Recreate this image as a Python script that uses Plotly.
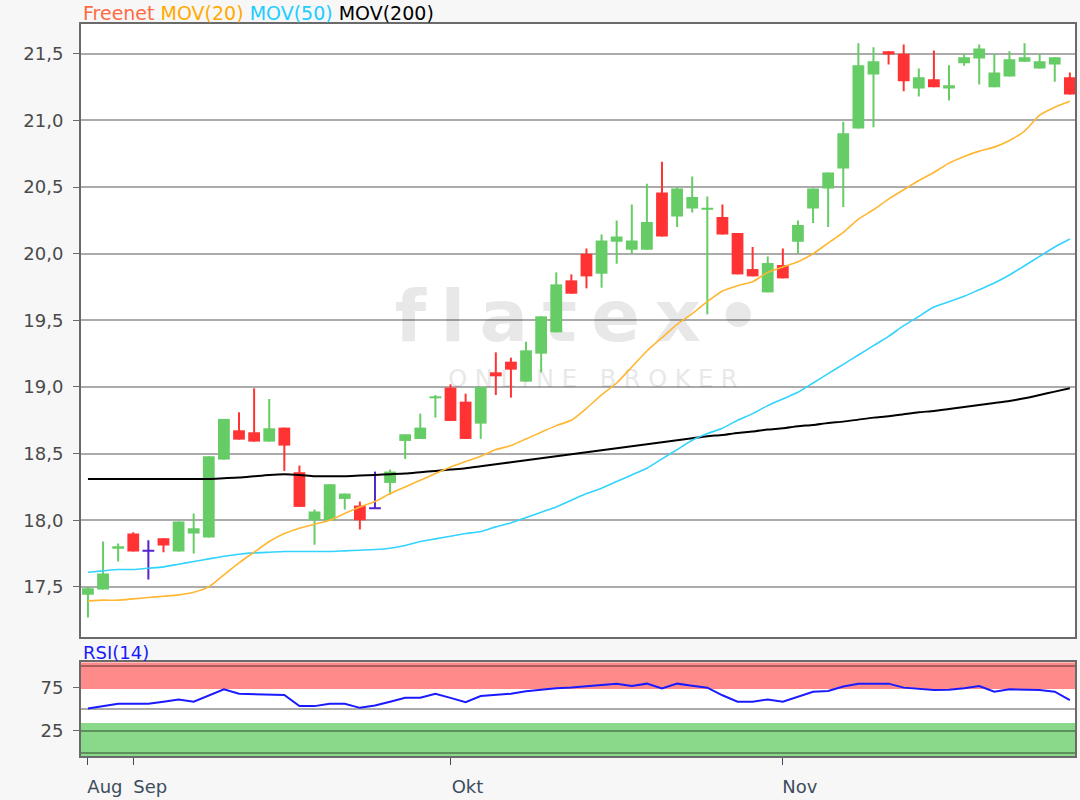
import plotly.graph_objects as go

# ---------------- data ----------------
opens = [17.44, 17.48, 17.785, 17.90, 17.77, 17.865, 17.765, 17.90, 17.87, 18.455,
         18.675, 18.66, 18.59, 18.695, 18.36, 18.00, 18.00, 18.16, 18.11, 18.09,
         18.28, 18.595, 18.61, 18.915, 18.995, 18.89, 18.725, 19.11, 19.19, 19.04,
         19.25, 19.41, 19.80, 20.00, 19.85, 20.09, 20.03, 20.03, 20.46, 20.28,
         20.34, 20.33, 20.275, 20.155, 19.885, 19.71, 19.915, 20.09, 20.34, 20.49,
         20.64, 20.94, 21.345, 21.52, 21.50, 21.24, 21.31, 21.24, 21.43, 21.465,
         21.25, 21.33, 21.44, 21.39, 21.42, 21.325]
highs = [17.50, 17.84, 17.825, 17.91, 17.85, 17.865, 17.99, 18.05, 18.48, 18.76,
         18.81, 18.99, 18.91, 18.695, 18.41, 18.08, 18.27, 18.20, 18.14, 18.365,
         18.38, 18.645, 18.80, 18.94, 19.02, 18.95, 19.00, 19.26, 19.22, 19.34,
         19.53, 19.86, 19.845, 20.04, 20.145, 20.25, 20.37, 20.525, 20.69, 20.50,
         20.58, 20.43, 20.37, 20.155, 20.05, 19.98, 20.04, 20.25, 20.49, 20.61,
         20.99, 21.58, 21.55, 21.52, 21.57, 21.39, 21.525, 21.415, 21.50, 21.57,
         21.50, 21.52, 21.58, 21.50, 21.475, 21.36]
lows = [17.27, 17.48, 17.69, 17.765, 17.555, 17.76, 17.765, 17.75, 17.87, 18.455,
        18.605, 18.59, 18.59, 18.37, 18.10, 17.815, 18.00, 18.08, 17.93, 18.09,
        18.19, 18.46, 18.61, 18.77, 18.745, 18.61, 18.61, 18.94, 18.92, 19.04,
        19.11, 19.41, 19.70, 19.74, 19.745, 19.925, 20.00, 20.03, 20.13, 20.20,
        20.31, 19.545, 20.145, 19.845, 19.83, 19.71, 19.815, 20.00, 20.23, 20.20,
        20.35, 20.94, 20.95, 21.42, 21.22, 21.18, 21.25, 21.15, 21.41, 21.27,
        21.25, 21.33, 21.44, 21.39, 21.29, 21.195]
closes = [17.49, 17.60, 17.805, 17.765, 17.77, 17.81, 17.99, 17.94, 18.48, 18.76,
          18.605, 18.59, 18.69, 18.56, 18.10, 18.065, 18.27, 18.20, 18.00, 18.09,
          18.365, 18.645, 18.695, 18.93, 18.745, 18.61, 19.00, 19.08, 19.13, 19.275,
          19.53, 19.77, 19.70, 19.83, 20.10, 20.13, 20.10, 20.2375, 20.13, 20.49,
          20.425, 20.345, 20.145, 19.845, 19.83, 19.93, 19.815, 20.215, 20.49, 20.61,
          20.905, 21.415, 21.445, 21.495, 21.295, 21.325, 21.25, 21.265, 21.475, 21.54,
          21.36, 21.46, 21.475, 21.445, 21.475, 21.195]
ma20 = [17.395, 17.40, 17.40, 17.41, 17.42, 17.43, 17.44, 17.46, 17.50, 17.59,
        17.68, 17.76, 17.84, 17.90, 17.94, 17.97, 18.00, 18.05, 18.10, 18.14,
        18.20, 18.25, 18.30, 18.35, 18.40, 18.44, 18.48, 18.53, 18.56, 18.61,
        18.66, 18.71, 18.75, 18.84, 18.94, 19.03, 19.15, 19.27, 19.37, 19.47,
        19.55, 19.64, 19.72, 19.76, 19.79, 19.86, 19.90, 19.94, 20.00, 20.08,
        20.16, 20.26, 20.33, 20.41, 20.48, 20.55, 20.61, 20.68, 20.73, 20.77,
        20.80, 20.85, 20.92, 21.04, 21.10, 21.145]
ma50 = [17.61, 17.62, 17.63, 17.63, 17.64, 17.65, 17.67, 17.69, 17.71, 17.73,
        17.745, 17.755, 17.76, 17.765, 17.765, 17.765, 17.765, 17.77, 17.775, 17.78,
        17.79, 17.81, 17.84, 17.86, 17.88, 17.90, 17.915, 17.95, 17.98, 18.02,
        18.06, 18.10, 18.15, 18.20, 18.24, 18.29, 18.34, 18.39, 18.46, 18.53,
        18.60, 18.65, 18.69, 18.75, 18.80, 18.86, 18.91, 18.96, 19.03, 19.10,
        19.17, 19.24, 19.31, 19.38, 19.46, 19.53, 19.60, 19.64, 19.68, 19.73,
        19.78, 19.84, 19.91, 19.98, 20.05, 20.11]
ma200 = [18.31, 18.31, 18.31, 18.31, 18.31, 18.31, 18.31, 18.31, 18.31, 18.315,
         18.32, 18.33, 18.34, 18.345, 18.34, 18.33, 18.33, 18.33, 18.335, 18.34,
         18.345, 18.35, 18.36, 18.37, 18.38, 18.39, 18.405, 18.42, 18.435, 18.45,
         18.465, 18.48, 18.495, 18.51, 18.525, 18.54, 18.555, 18.57, 18.585, 18.60,
         18.615, 18.63, 18.64, 18.655, 18.665, 18.68, 18.69, 18.705, 18.715, 18.73,
         18.74, 18.755, 18.77, 18.78, 18.795, 18.81, 18.82, 18.835, 18.85, 18.865,
         18.88, 18.895, 18.915, 18.94, 18.965, 18.99]
rsi = [50.7, 53.5, 56.2, 56.2, 56.2, 58.5, 61.2, 58.5, 65.6, 72.8,
       67.8, 67.5, 67.0, 66.3, 53.5, 53.5, 56.2, 56.2, 51.5, 54.2,
       58.5, 63.1, 63.1, 67.8, 63.0, 58.1, 65.1, 66.5, 67.8, 70.5,
       72.5, 74.0, 75.0, 76.7, 78.0, 79.4, 76.7, 79.4, 74.0, 79.4,
       77.0, 74.8, 66.0, 58.5, 58.5, 61.2, 58.5, 64.0, 70.1, 70.9,
       76.0, 79.4, 79.4, 79.4, 74.8, 73.5, 72.1, 72.5, 74.0, 76.7,
       70.1, 72.8, 72.5, 72.1, 70.1, 60.5]

month_tick_idx = [0, 3, 24, 46]
month_labels = ["Aug", "Sep", "Okt", "Nov"]
price_ticks = [17.5, 18.0, 18.5, 19.0, 19.5, 20.0, 20.5, 21.0, 21.5]
rsi_ticks = [25, 75]
rsi_grid = [0, 25, 50, 100]

# ---------------- styling ----------------
UP = "#66cc66"
DOWN = "#ff3333"
DOJI = "#5522cc"
C20 = "#ffb732"
C50 = "#33d3ff"
C200 = "#000000"
FONT = "DejaVu Sans"
GRID = "rgba(0,0,0,0.33)"
FRAME = "#6a6a6a"

n = len(closes)
xs = list(range(n))

groups = {"up": [], "down": [], "doji": []}
for i in xs:
    if closes[i] > opens[i]:
        groups["up"].append(i)
    elif closes[i] < opens[i]:
        groups["down"].append(i)
    else:
        groups["doji"].append(i)

fig = go.Figure()

BODY_W = 0.78
for key, color in (("up", UP), ("down", DOWN), ("doji", DOJI)):
    idx = groups[key]
    wx, wy = [], []
    for i in idx:
        wx += [i, i, None]
        wy += [lows[i], highs[i], None]
    fig.add_trace(go.Scatter(x=wx, y=wy, mode="lines", line=dict(color=color, width=2),
                             hoverinfo="skip", showlegend=False, xaxis="x", yaxis="y"))
    if key == "doji":
        dx, dy = [], []
        for i in idx:
            dx += [i - BODY_W / 2, i + BODY_W / 2, None]
            dy += [opens[i], opens[i], None]
        fig.add_trace(go.Scatter(x=dx, y=dy, mode="lines", line=dict(color=color, width=2),
                                 hoverinfo="skip", showlegend=False, xaxis="x", yaxis="y"))
    else:
        fig.add_trace(go.Bar(
            x=idx,
            y=[abs(closes[i] - opens[i]) for i in idx],
            base=[min(opens[i], closes[i]) for i in idx],
            width=BODY_W,
            marker=dict(color=color, line=dict(width=0)),
            showlegend=False, xaxis="x", yaxis="y"))

for vals, color, w in ((ma200, C200, 2), (ma50, C50, 1.6), (ma20, C20, 1.6)):
    fig.add_trace(go.Scatter(x=xs, y=vals, mode="lines",
                             line=dict(color=color, width=w, shape="spline", smoothing=0.6),
                             showlegend=False, xaxis="x", yaxis="y"))

fig.add_trace(go.Scatter(x=xs, y=rsi, mode="lines", line=dict(color="#1a1aff", width=2),
                         showlegend=False, xaxis="x2", yaxis="y2"))

XR = [-0.46, 65.34]
axis_common = dict(showline=True, mirror=True, linecolor=FRAME, linewidth=2, zeroline=False)

fig.update_layout(
    width=1080, height=800,
    margin=dict(l=81, r=3, t=24, b=42),
    paper_bgcolor="#f7f7f7",
    plot_bgcolor="#ffffff",
    separators=",.",
    barmode="overlay",
    showlegend=False,
    font=dict(family=FONT, size=18, color="#4a4a4a"),
    xaxis=dict(domain=[0, 1], range=XR, anchor="y", showticklabels=False, ticks="",
               showgrid=False, **axis_common),
    yaxis=dict(domain=[0.163, 1], range=[17.126, 21.724], anchor="x",
               tickmode="array", tickvals=price_ticks, tickformat=".1f",
               ticks="outside", ticklen=6, tickwidth=1, tickcolor=FRAME,
               ticklabelstandoff=6,
               showgrid=True, gridcolor=GRID, gridwidth=2,
               tickfont=dict(size=18, color="#4a4a4a"), **axis_common),
    xaxis2=dict(domain=[0, 1], range=XR, anchor="y2", matches="x",
                tickmode="array", tickvals=month_tick_idx, ticktext=month_labels,
                ticks="outside", ticklen=7, tickwidth=1, tickcolor="#3d4d5d",
                ticklabelshift=17, ticklabelstandoff=6,
                tickfont=dict(size=18, color="#3d4d5d"),
                showgrid=False, **axis_common),
    yaxis2=dict(domain=[0, 0.128], range=[-4, 104], anchor="x2",
                tickmode="array", tickvals=rsi_ticks,
                ticks="outside", ticklen=6, tickwidth=1, tickcolor=FRAME,
                ticklabelstandoff=6,
                showgrid=False,
                minor=dict(tickmode="array", tickvals=rsi_grid, showgrid=True,
                           gridcolor=GRID, gridwidth=1.5, ticks=""),
                tickfont=dict(size=18, color="#4a4a4a"), **axis_common),
)

# RSI zones
fig.add_shape(type="rect", xref="paper", yref="y2", x0=0, x1=1, y0=73.3, y1=104,
              fillcolor="#ff8a8a", line=dict(width=0), layer="below")
fig.add_shape(type="rect", xref="paper", yref="y2", x0=0, x1=1, y0=-4, y1=34,
              fillcolor="#8ad88a", line=dict(width=0), layer="below")

# watermark
fig.add_shape(type="rect", xref="paper", yref="paper", x0=0.25, x1=0.75, y0=0.56, y1=0.655,
              fillcolor="rgba(0,0,0,0)", line=dict(width=0), layer="below",
              label=dict(text="f\u2009l\u2009a\u2009t\u2009e\u2009x\u2009\u2022",
                         font=dict(family=FONT, size=72, color="#e8e8e8", weight="bold"),
                         textposition="middle center"))
fig.add_shape(type="rect", xref="paper", yref="paper", x0=0.35, x1=0.68, y0=0.49, y1=0.545,
              fillcolor="rgba(0,0,0,0)", line=dict(width=0), layer="below",
              label=dict(text="O N L I N E   B R O K E R",
                         font=dict(family=FONT, size=24, color="#e8e8e8"),
                         textposition="middle center"))

# titles
fig.add_annotation(
    xref="paper", yref="paper", x=0, y=1, xanchor="left", yanchor="bottom", yshift=-2,
    showarrow=False, font=dict(family=FONT, size=19),
    text=("<span style='color:#ff6b45'>Freenet</span> "
          "<span style='color:#ffaa00'>MOV(20)</span> "
          "<span style='color:#22ccff'>MOV(50)</span> "
          "<span style='color:#000000'>MOV(200)</span>"))
fig.add_annotation(
    xref="paper", yref="paper", x=0, y=0.128, xanchor="left", yanchor="bottom", yshift=-3,
    showarrow=False, font=dict(family=FONT, size=18, color="#1a1aff"), text="RSI(14)")

fig.write_html("out.html", config={"displayModeBar": False},
               post_script="document.body.style.margin='0';")
